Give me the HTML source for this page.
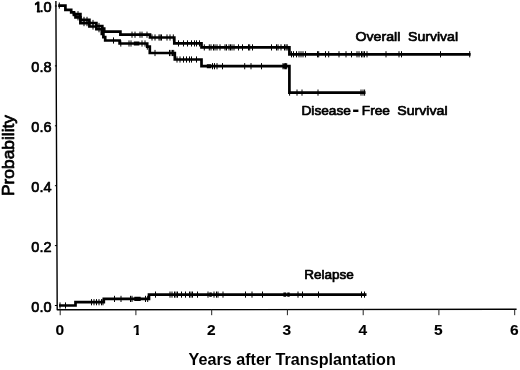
<!DOCTYPE html>
<html><head><meta charset="utf-8"><title>Survival</title>
<style>
html,body{margin:0;padding:0;background:#fff}
body{width:520px;height:370px;overflow:hidden}
svg{display:block;will-change:transform}
text{font-family:"Liberation Sans",Arial,Helvetica,sans-serif;fill:#000}
.yl{font-size:14.5px;stroke:#000;stroke-width:.7px;stroke-linejoin:round}
.xl{font-size:15.5px;font-weight:bold;stroke:#000;stroke-width:.12px}
.ttl{font-size:15.8px;font-weight:bold}
.ttl2{font-size:15.8px;stroke:#000;stroke-width:.7px;stroke-linejoin:round}
.cl{font-size:13.4px;stroke:#000;stroke-width:.7px;stroke-linejoin:round}
</style></head><body>
<svg width="520" height="370" viewBox="0 0 520 370">
<rect width="520" height="370" fill="#fff"/>
<path d="M55.9 1 L57.2 309.8 L516.6 309.3" fill="none" stroke="#000" stroke-width="1.4" stroke-linejoin="round"/>
<path d="M54.9 305.5H57M54.9 245.6H57M54.9 185.7H57M54.9 125.8H57M54.9 65.9H57M54.9 6.0H57" stroke="#000" stroke-width="1"/>
<path d="M60.2 309.6V315.2M135.9 309.6V315.2M211.7 309.6V315.2M287.4 309.6V315.2M363.2 309.6V315.2M438.9 309.6V315.2M514.7 309.6V315.2" stroke="#222" stroke-width="1"/>
<text class="yl" x="51.5" y="311.6" text-anchor="end">0.0</text>
<text class="yl" x="51.5" y="251.7" text-anchor="end">0.2</text>
<text class="yl" x="51.5" y="191.8" text-anchor="end">0.4</text>
<text class="yl" x="51.5" y="131.9" text-anchor="end">0.6</text>
<text class="yl" x="51.5" y="72.0" text-anchor="end">0.8</text>
<text class="yl" x="51.5" y="12.1" text-anchor="end">.0</text>
<clipPath id="c2"><path d="M25 -3H45V9.9H25ZM36.9 9H40.1V14H36.9Z"/></clipPath><g clip-path="url(#c2)"><text class="yl" x="34.1" y="12.1" style="stroke-width:1px">1</text></g>
<text class="xl" x="59.7" y="334.9" text-anchor="middle">0</text>
<clipPath id="c1"><path d="M125 318H150V332.8H125ZM135.9 332H138.9V338H135.9Z"/></clipPath><g clip-path="url(#c1)"><text class="xl" x="137.1" y="334.9" text-anchor="middle">1</text></g>
<text class="xl" x="211.2" y="334.9" text-anchor="middle">2</text>
<text class="xl" x="286.9" y="334.9" text-anchor="middle">3</text>
<text class="xl" x="362.7" y="334.9" text-anchor="middle">4</text>
<text class="xl" x="438.4" y="334.9" text-anchor="middle">5</text>
<text class="xl" x="514.2" y="334.9" text-anchor="middle">6</text>
<text class="ttl" x="188.6" y="365.4" textLength="207.2" lengthAdjust="spacingAndGlyphs">Years after Transplantation</text>
<text class="ttl2" transform="translate(13.6 196.0) rotate(-90)" textLength="81" lengthAdjust="spacingAndGlyphs">Probability</text>
<text class="cl" x="355.5" y="41.0" textLength="44.8" lengthAdjust="spacingAndGlyphs">Overall</text>
<text class="cl" x="408" y="41.0" textLength="50.1" lengthAdjust="spacingAndGlyphs">Survival</text>
<text class="cl" x="301.5" y="114.5" textLength="49.4" lengthAdjust="spacingAndGlyphs">Disease</text>
<text x="352.2" y="115.6" style="font-size:21px;font-weight:bold">-</text>
<text class="cl" x="361.8" y="114.5" textLength="28.2" lengthAdjust="spacingAndGlyphs">Free</text>
<text class="cl" x="397.2" y="114.5" textLength="50.4" lengthAdjust="spacingAndGlyphs">Survival</text>
<text class="cl" x="304.3" y="279.1" textLength="49.6" lengthAdjust="spacingAndGlyphs">Relapse</text>
<path d="M134.3 296.8H140.7V301.0H134.3ZM209.3 292.4H211.8V296.8H209.3ZM283.4 292.4H286.2V296.8H283.4ZM287.3 292.4H289.7V296.8H287.3ZM133.8 41.6H139.4V45.4H133.8ZM206.8 64.2H211.2V68.2H206.8ZM282.8 64.2H287.0V68.2H282.8Z" fill="#000"/>
<path d="M58.2 5.6 H65.4 V9.9 H71.2 V12.3 H74.0 V14.2 H80.4 V19.9 H89.4 V23.0 H96.4 V26.0 H102.3 V28.5 H104.2 V31.6 H120.4 V34.7 H150.0 V37.5 H174.3 V43.4 H201.5 V47.4 H289.4 V54.3 H470.6" fill="none" stroke="#000" stroke-width="2.7" stroke-linejoin="miter"/>
<path d="M59.3 2.5V8.7M78.0 11.1V17.3M84.0 16.8V23.0M87.0 16.8V23.0M93.0 19.9V26.1M99.0 22.9V29.1M132.0 31.6V37.8M135.0 31.6V37.8M140.0 31.6V37.8M142.0 31.6V37.8M147.0 31.6V37.8M152.0 34.4V40.6M155.0 34.4V40.6M159.0 34.4V40.6M160.2 34.4V40.6M161.5 34.4V40.6M167.0 34.4V40.6M170.0 34.4V40.6M173.3 34.4V40.6M178.5 40.3V46.5M183.5 40.3V46.5M187.5 40.3V46.5M191.5 40.3V46.5M194.5 40.3V46.5M196.5 40.3V46.5M199.5 40.3V46.5M204.3 44.3V50.5M209.3 44.3V50.5M211.0 44.3V50.5M213.5 44.3V50.5M215.0 44.3V50.5M217.0 44.3V50.5M220.0 44.3V50.5M225.0 44.3V50.5M226.5 44.3V50.5M229.0 44.3V50.5M230.5 44.3V50.5M232.0 44.3V50.5M234.0 44.3V50.5M238.5 44.3V50.5M242.5 44.3V50.5M248.5 44.3V50.5M249.7 44.3V50.5M252.5 44.3V50.5M271.5 44.3V50.5M276.5 44.3V50.5M278.0 44.3V50.5M281.0 44.3V50.5M284.5 44.3V50.5M286.0 44.3V50.5M287.2 44.3V50.5M291.5 51.2V57.4M293.5 51.2V57.4M296.5 51.2V57.4M299.0 51.2V57.4M301.0 51.2V57.4M303.0 51.2V57.4M305.5 51.2V57.4M317.5 51.2V57.4M318.7 51.2V57.4M325.5 51.2V57.4M328.7 51.2V57.4M339.0 51.2V57.4M346.0 51.2V57.4M351.5 51.2V57.4M357.0 51.2V57.4M359.0 51.2V57.4M361.5 51.2V57.4M363.0 51.2V57.4M364.5 51.2V57.4M367.0 51.2V57.4M386.0 51.2V57.4M399.0 51.2V57.4M401.5 51.2V57.4M440.5 51.2V57.4M469.7 51.2V57.4" fill="none" stroke="#000" stroke-width="1"/>
<path d="M74.0 12.3 V15.0 H75.5 V17.3 H80.4 V23.1 H89.4 V26.5 H96.4 V29.2 H101.8 V33.8 H103.4 V37.2 H105.2 V40.5 H119.6 V43.5 H147.2 V46.6 H149.8 V53.0 H174.8 V59.5 H201.5 V66.2 H289.4 V92.6 H365.5" fill="none" stroke="#000" stroke-width="2.7" stroke-linejoin="miter"/>
<path d="M78.0 14.2V20.4M84.0 20.0V26.2M87.0 20.0V26.2M93.0 23.4V29.6M99.0 26.1V32.3M113.5 37.4V43.6M120.8 40.4V46.6M129.0 40.4V46.6M131.0 40.4V46.6M142.0 40.4V46.6M145.0 40.4V46.6M147.3 43.5V49.7M155.0 49.9V56.1M169.5 49.9V56.1M171.0 49.9V56.1M172.5 49.9V56.1M173.7 49.9V56.1M177.0 56.4V62.6M180.0 56.4V62.6M183.5 56.4V62.6M186.5 56.4V62.6M189.5 56.4V62.6M191.5 56.4V62.6M196.5 56.4V62.6M212.5 63.1V69.3M214.5 63.1V69.3M217.0 63.1V69.3M222.5 63.1V69.3M244.7 63.1V69.3M251.0 63.1V69.3M261.5 63.1V69.3M283.0 63.1V69.3M284.3 63.1V69.3M285.5 63.1V69.3M286.7 63.1V69.3M289.6 89.5V95.7M297.0 89.5V95.7M302.0 89.5V95.7M318.0 89.5V95.7M361.0 89.5V95.7M363.0 89.5V95.7M364.6 89.5V95.7" fill="none" stroke="#000" stroke-width="1"/>
<path d="M59.0 305.5 H75.5 V302.2 H103.8 V298.9 H149.0 V294.6 H366.5" fill="none" stroke="#000" stroke-width="2.7" stroke-linejoin="miter"/>
<path d="M60.0 302.4V308.6M65.5 302.4V308.6M91.5 299.1V305.3M94.0 299.1V305.3M96.5 299.1V305.3M99.0 299.1V305.3M101.5 299.1V305.3M103.0 299.1V305.3M114.5 295.8V302.0M121.0 295.8V302.0M130.5 295.8V302.0M132.0 295.8V302.0M145.5 295.8V302.0M147.7 295.8V302.0M155.5 291.5V297.7M170.0 291.5V297.7M172.0 291.5V297.7M174.5 291.5V297.7M176.0 291.5V297.7M177.5 291.5V297.7M181.5 291.5V297.7M185.5 291.5V297.7M189.5 291.5V297.7M191.0 291.5V297.7M192.5 291.5V297.7M197.5 291.5V297.7M208.0 291.5V297.7M214.0 291.5V297.7M216.5 291.5V297.7M218.0 291.5V297.7M223.0 291.5V297.7M245.5 291.5V297.7M252.0 291.5V297.7M262.5 291.5V297.7M298.0 291.5V297.7M302.5 291.5V297.7M318.5 291.5V297.7M361.5 291.5V297.7M364.5 291.5V297.7" fill="none" stroke="#000" stroke-width="1"/>
</svg>
</body></html>
